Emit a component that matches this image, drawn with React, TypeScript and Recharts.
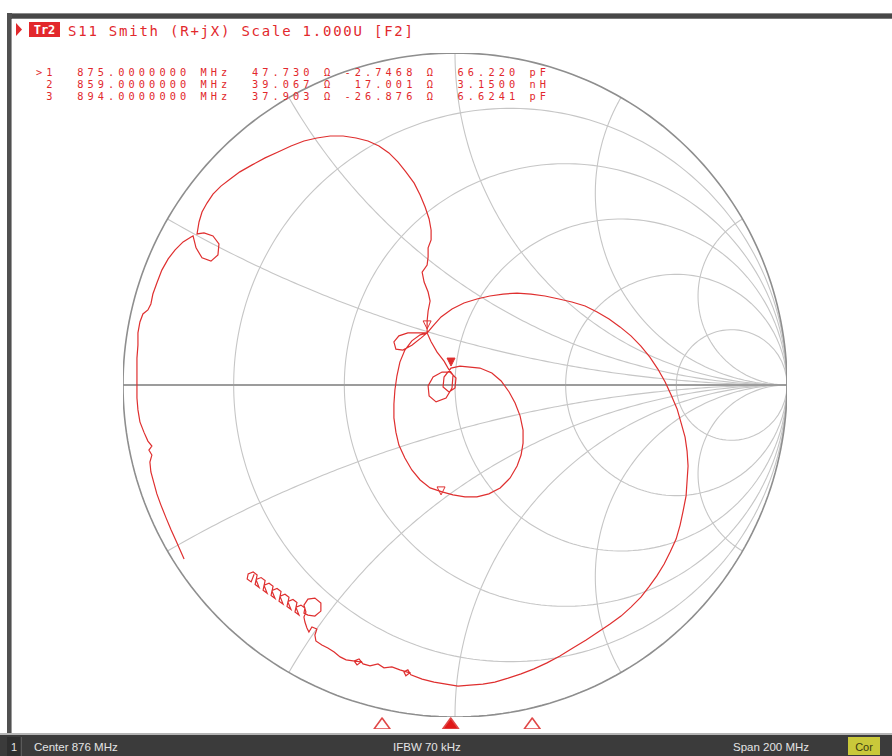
import React from 'react';
import { ScatterChart, Scatter, XAxis, YAxis } from 'recharts';

type P = [number, number];

// ---- trace (re, im) ----
const leftEdge: P[] = [
  [-0.816, -0.524], [-0.828, -0.497], [-0.84, -0.47], [-0.855, -0.437], [-0.87, -0.401], [-0.886, -0.361],
  [-0.898, -0.328], [-0.907, -0.295], [-0.916, -0.262], [-0.919, -0.232], [-0.913, -0.211], [-0.922, -0.196],
  [-0.913, -0.184], [-0.925, -0.169], [-0.937, -0.142], [-0.949, -0.111], [-0.955, -0.075], [-0.958, -0.039],
  [-0.958, -0.003], [-0.958, 0.039], [-0.958, 0.081], [-0.955, 0.12], [-0.955, 0.157], [-0.949, 0.19],
  [-0.94, 0.214], [-0.925, 0.226], [-0.916, 0.244], [-0.91, 0.274], [-0.898, 0.307], [-0.883, 0.346],
  [-0.864, 0.38], [-0.843, 0.407], [-0.819, 0.431], [-0.795, 0.446], [-0.789, 0.449],
];
const smallLoop: P[] = [
  [-0.78, 0.413], [-0.762, 0.383], [-0.735, 0.373], [-0.714, 0.392], [-0.711, 0.425], [-0.729, 0.449],
  [-0.756, 0.458], [-0.777, 0.455], [-0.771, 0.491], [-0.762, 0.521],
];
const topArc: P[] = [
  [-0.747, 0.548], [-0.729, 0.575], [-0.705, 0.599], [-0.678, 0.62], [-0.648, 0.642], [-0.611, 0.663],
  [-0.572, 0.684], [-0.533, 0.702], [-0.494, 0.72], [-0.455, 0.735], [-0.416, 0.744], [-0.376, 0.75],
  [-0.337, 0.75], [-0.298, 0.744], [-0.262, 0.735], [-0.229, 0.72], [-0.199, 0.699], [-0.172, 0.672],
  [-0.148, 0.642], [-0.123, 0.608], [-0.105, 0.572], [-0.09, 0.536], [-0.078, 0.5], [-0.072, 0.467],
  [-0.072, 0.437], [-0.081, 0.413], [-0.081, 0.386], [-0.084, 0.361], [-0.099, 0.34], [-0.093, 0.31],
  [-0.081, 0.28], [-0.075, 0.253], [-0.081, 0.223], [-0.084, 0.193], [-0.084, 0.157],
];
const leftLobe: P[] = [
  [-0.111, 0.157], [-0.142, 0.157], [-0.169, 0.148], [-0.184, 0.13], [-0.178, 0.108], [-0.157, 0.105],
  [-0.13, 0.12], [-0.102, 0.142], [-0.084, 0.157],
];
const centerLoops: P[] = [
  [-0.072, 0.13], [-0.054, 0.099], [-0.033, 0.072], [-0.021, 0.051], [-0.006, 0.03], [-0.009, -0.009],
  [-0.027, -0.039], [-0.057, -0.051], [-0.078, -0.033], [-0.081, -0.003], [-0.066, 0.024], [-0.039, 0.039],
  [-0.015, 0.039], [0.003, 0.021], [0.0, -0.009], [-0.018, -0.021], [-0.036, -0.006], [-0.033, 0.024],
  [-0.012, 0.051], [0.015, 0.057], [0.045, 0.054], [0.075, 0.051],
];
const innerLoop: P[] = [
  [0.111, 0.036], [0.139, 0.012], [0.163, -0.021], [0.181, -0.054], [0.196, -0.093], [0.205, -0.136],
  [0.205, -0.175], [0.199, -0.211], [0.187, -0.244], [0.166, -0.28], [0.136, -0.31], [0.102, -0.328],
  [0.066, -0.337], [0.03, -0.337], [-0.006, -0.331], [-0.039, -0.322], [-0.075, -0.31], [-0.105, -0.286],
  [-0.13, -0.256], [-0.151, -0.22], [-0.169, -0.181], [-0.178, -0.142], [-0.184, -0.099], [-0.184, -0.057],
  [-0.181, -0.015], [-0.175, 0.027], [-0.166, 0.069], [-0.151, 0.105], [-0.13, 0.133], [-0.105, 0.151],
  [-0.084, 0.157],
];
const outerLoop: P[] = [
  [-0.066, 0.178], [-0.042, 0.205], [-0.009, 0.229], [0.027, 0.247], [0.066, 0.259], [0.105, 0.268],
  [0.145, 0.274], [0.187, 0.277], [0.229, 0.274], [0.271, 0.268], [0.313, 0.259], [0.352, 0.25],
  [0.392, 0.238], [0.428, 0.22], [0.464, 0.199], [0.497, 0.175], [0.53, 0.148], [0.56, 0.117],
  [0.587, 0.084], [0.611, 0.048], [0.633, 0.009], [0.651, -0.03], [0.669, -0.072], [0.681, -0.114],
  [0.693, -0.157], [0.699, -0.199], [0.702, -0.244], [0.699, -0.289], [0.696, -0.334], [0.687, -0.38],
  [0.678, -0.422], [0.666, -0.464], [0.648, -0.503], [0.63, -0.539], [0.608, -0.575], [0.584, -0.608],
  [0.56, -0.639], [0.53, -0.669], [0.5, -0.696], [0.467, -0.72], [0.431, -0.744], [0.395, -0.768],
  [0.355, -0.792], [0.316, -0.816], [0.277, -0.837], [0.238, -0.855], [0.199, -0.87], [0.16, -0.883],
  [0.12, -0.895], [0.084, -0.901], [0.045, -0.904], [0.009, -0.907], [-0.027, -0.901], [-0.063, -0.895],
  [-0.099, -0.886], [-0.133, -0.873], [-0.142, -0.858], [-0.154, -0.864], [-0.148, -0.876], [-0.136, -0.867],
  [-0.166, -0.858],
];
const bottomTail: P[] = [
  [-0.19, -0.849], [-0.214, -0.852], [-0.232, -0.84], [-0.256, -0.846], [-0.277, -0.84], [-0.289, -0.825],
  [-0.304, -0.831], [-0.295, -0.843], [-0.283, -0.834], [-0.307, -0.831], [-0.328, -0.828], [-0.346, -0.819],
  [-0.364, -0.804], [-0.383, -0.792], [-0.401, -0.783], [-0.419, -0.771], [-0.422, -0.753], [-0.416, -0.735],
  [-0.431, -0.729], [-0.44, -0.744], [-0.446, -0.732], [-0.452, -0.714], [-0.455, -0.699], [-0.449, -0.684],
  [-0.455, -0.663], [-0.443, -0.645], [-0.422, -0.642], [-0.404, -0.657], [-0.404, -0.681], [-0.422, -0.696],
  [-0.443, -0.693],
];
const tailCluster: P[] = [
  [-0.455, -0.687], [-0.452, -0.672], [-0.464, -0.663], [-0.479, -0.669], [-0.482, -0.684], [-0.47, -0.693],
  [-0.479, -0.67], [-0.476, -0.655], [-0.488, -0.646], [-0.503, -0.652], [-0.506, -0.667], [-0.494, -0.676],
  [-0.503, -0.654], [-0.5, -0.639], [-0.512, -0.63], [-0.527, -0.636], [-0.53, -0.651], [-0.518, -0.66],
  [-0.527, -0.637], [-0.524, -0.622], [-0.536, -0.613], [-0.551, -0.619], [-0.554, -0.634], [-0.542, -0.643],
  [-0.551, -0.621], [-0.548, -0.606], [-0.56, -0.597], [-0.575, -0.603], [-0.578, -0.618], [-0.566, -0.627],
  [-0.575, -0.604], [-0.572, -0.589], [-0.584, -0.58], [-0.599, -0.586], [-0.602, -0.601], [-0.59, -0.61],
  [-0.599, -0.587], [-0.596, -0.572], [-0.608, -0.563], [-0.623, -0.569], [-0.626, -0.584], [-0.614, -0.593],
  [-0.605, -0.57],
];

// ---- markers ----
const markerIds = ['>1', ' 2', ' 3'];
const markerFreqMHz = [875, 859, 894];
const markerR = [47.73, 39.067, 37.903];
const markerX = [-2.7468, 17.001, -26.876];
const markerLC = [66.22, 3.15, 6.6241];
const markerLCUnit = ['pF', 'nH', 'pF'];
const markerActive = [true, false, false];
const markerOnTrace: P[] = [[-0.012, 0.057], [-0.084, 0.169], [-0.042, -0.331]];

// ---- grid / axes ----
const R_CIRCLES = [0.2, 0.5, 1, 2, 5];
const X_ARCS = [0.268, 0.577, 1, 1.732, 3.732];
const SPAN_CENTER = 876;
const SPAN = 200;
const IFBW = '70 kHz';

const W = 892;
const H = 756;
const PLOT = { left: 123, top: 53, size: 664 };

const RED = '#e2282c';
const TRACE = '#df2f2f';

function gamma(r: number, x: number) {
  const den = (r + 1) * (r + 1) + x * x;
  return { re: (r * r - 1 + x * x) / den, im: (2 * x) / den };
}

function rCircle(r: number) {
  const pts: { re: number; im: number }[] = [{ re: 1, im: 0 }];
  const n = 260;
  for (let i = 0; i <= n; i++) {
    const phi = -Math.PI / 2 + 0.0005 + (i / n) * (Math.PI - 0.001);
    pts.push(gamma(r, Math.tan(phi)));
  }
  pts.push({ re: 1, im: 0 });
  return pts;
}

function xArc(x: number) {
  const pts: { re: number; im: number }[] = [];
  const n = 160;
  for (let i = 0; i <= n; i++) {
    const phi = (i / n) * (Math.PI / 2 - 0.0005);
    pts.push(gamma(Math.tan(phi), x));
  }
  pts.push({ re: 1, im: 0 });
  return pts;
}

const toPts = (a: P[]) => a.map(([re, im]) => ({ re, im }));
const tracePts = toPts([
  ...leftEdge, ...smallLoop, ...topArc, ...leftLobe, ...centerLoops, ...innerLoop, ...outerLoop,
  ...bottomTail, ...tailCluster,
]);

const Empty = () => <g />;

const TraceMarker = (props: any) => {
  const { cx, cy, payload } = props;
  if (cx == null || cy == null) return <g />;
  return (
    <polygon
      points={`${cx - 4},${cy - 8} ${cx + 4},${cy - 8} ${cx},${cy}`}
      fill={payload.active ? TRACE : 'none'}
      stroke={TRACE}
      strokeWidth={1}
    />
  );
};

const AxisMarker = (props: any) => {
  const { cx, cy, payload } = props;
  if (cx == null || cy == null) return <g />;
  return (
    <polygon
      points={`${cx},${cy - 11} ${cx - 8},${cy} ${cx + 8},${cy}`}
      fill={payload.active ? '#e01818' : '#ffffff'}
      stroke="#e04848"
      strokeWidth={1.6}
      strokeLinejoin="round"
    />
  );
};

const mono = '"DejaVu Sans Mono", "Liberation Mono", monospace';
const sans = '"Liberation Sans", Arial, sans-serif';

function markerLine(i: number) {
  const id = markerIds[i];
  const f = markerFreqMHz[i].toFixed(7);
  const r = markerR[i].toPrecision(5);
  const x = markerX[i].toPrecision(5).padStart(7, ' ');
  const lc = markerLC[i].toPrecision(5);
  return `${id}  ${f} MHz  ${r} \u03A9 ${x} \u03A9  ${lc} ${markerLCUnit[i]}`;
}

export default function App() {
  const grid: { re: number; im: number }[][] = [];
  R_CIRCLES.forEach((r) => grid.push(rCircle(r)));
  X_ARCS.forEach((x) => {
    grid.push(xArc(x));
    grid.push(xArc(-x));
  });
  const outer = rCircle(0);
  const realAxis = [{ re: -1, im: 0 }, { re: 1, im: 0 }];

  const axisMarkers = markerFreqMHz.map((f, i) => ({ f, y: 0, active: markerActive[i] }));
  const traceMarkers = markerOnTrace.map(([re, im], i) => ({ re, im, active: markerActive[i] }));

  return (
    <div style={{ position: 'absolute', left: 0, top: 0, width: W, height: H, background: '#fff', overflow: 'hidden' }}>
      {/* frame */}
      <svg width={W} height={H} style={{ position: 'absolute', left: 0, top: 0 }}>
        <rect x={0} y={0} width={W} height={H} fill="#ffffff" />
        <rect x={7} y={13} width={W - 7} height={6} fill="#474747" />
        <rect x={7} y={13} width={W - 7} height={1} fill="#8a8a8a" />
        <rect x={7} y={18} width={W - 7} height={1} fill="#7a7a7a" />
        <rect x={7} y={13} width={5} height={722} fill="#505050" />
        <rect x={11} y={19} width={1} height={716} fill="#9a9a9a" />
        <rect x={0} y={733} width={W} height={2} fill="#b5b5b5" />
        <rect x={0} y={735} width={W} height={21} fill="#3b3b3b" />
        <rect x={7} y={737} width={13} height={19} fill="#2e2e2e" />
        <rect x={21} y={737} width={1} height={19} fill="#5a5a5a" />
        <text x={11} y={751} fill="#e4e4e4" fontSize={11} fontFamily={sans}>1</text>
        <text x={34} y={751} fill="#e4e4e4" fontSize={11.5} fontFamily={sans}>{`Center ${SPAN_CENTER} MHz`}</text>
        <text x={393} y={751} fill="#e4e4e4" fontSize={11.5} fontFamily={sans}>{`IFBW ${IFBW}`}</text>
        <text x={733} y={751} fill="#e4e4e4" fontSize={11.5} fontFamily={sans}>{`Span ${SPAN} MHz`}</text>
        <rect x={848} y={737} width={32} height={18} fill="#c9c83a" />
        <text x={864} y={751} fill="#3a3a10" fontSize={11} fontFamily={sans} textAnchor="middle">Cor</text>
      </svg>

      {/* Smith chart */}
      <div style={{ position: 'absolute', left: 0, top: 0 }}>
        <ScatterChart
          width={W}
          height={H}
          margin={{ top: PLOT.top, left: PLOT.left, right: W - PLOT.left - PLOT.size, bottom: H - PLOT.top - PLOT.size }}
        >
          <XAxis type="number" dataKey="re" domain={[-1, 1]} hide allowDataOverflow />
          <YAxis type="number" dataKey="im" domain={[-1, 1]} hide allowDataOverflow />
          {grid.map((g, i) => (
            <Scatter
              key={`g${i}`}
              data={g}
              line={{ stroke: '#c6c6c6', strokeWidth: 1.1 }}
              shape={Empty}
              isAnimationActive={false}
            />
          ))}
          <Scatter data={realAxis} line={{ stroke: '#9c9c9c', strokeWidth: 2.2 }} shape={Empty} isAnimationActive={false} />
          <Scatter data={outer} line={{ stroke: '#8e8e8e', strokeWidth: 1.6 }} shape={Empty} isAnimationActive={false} />
          <Scatter data={tracePts} line={{ stroke: TRACE, strokeWidth: 1.2 }} shape={Empty} isAnimationActive={false} />
          <Scatter data={traceMarkers} shape={TraceMarker} isAnimationActive={false} />
        </ScatterChart>
      </div>

      {/* frequency-axis marker triangles */}
      <div style={{ position: 'absolute', left: 0, top: 0 }}>
        <ScatterChart width={W} height={H} margin={{ top: 712, left: 26, right: 8, bottom: 27 }}>
          <XAxis type="number" dataKey="f" domain={[SPAN_CENTER - SPAN / 2, SPAN_CENTER + SPAN / 2]} hide allowDataOverflow />
          <YAxis type="number" dataKey="y" domain={[0, 1]} hide allowDataOverflow />
          <Scatter data={axisMarkers} shape={AxisMarker} isAnimationActive={false} />
        </ScatterChart>
      </div>

      {/* header text */}
      <svg width={W} height={H} style={{ position: 'absolute', left: 0, top: 0, pointerEvents: 'none' }}>
        <polygon points="16,23 22,29.5 16,36" fill={RED} />
        <rect x={29} y={22} width={31} height={15} fill={RED} />
        <text x={44.5} y={34} fill="#ffffff" fontSize={12} fontWeight="bold" fontFamily={mono} textAnchor="middle">Tr2</text>
        <text x={68} y={35.5} fill={RED} fontSize={14} fontFamily={mono} textLength={345} xmlSpace="preserve" style={{ whiteSpace: 'pre' }}>
          S11 Smith (R+jX) Scale 1.000U [F2]
        </text>
        {markerIds.map((_, i) => (
          <text
            key={i}
            x={36}
            y={75.5 + i * 12}
            fill={RED}
            fontSize={10.3}
            fontFamily={mono}
            textLength={510}
            xmlSpace="preserve"
            style={{ whiteSpace: 'pre' }}
          >
            {markerLine(i)}
          </text>
        ))}
      </svg>
    </div>
  );
}
